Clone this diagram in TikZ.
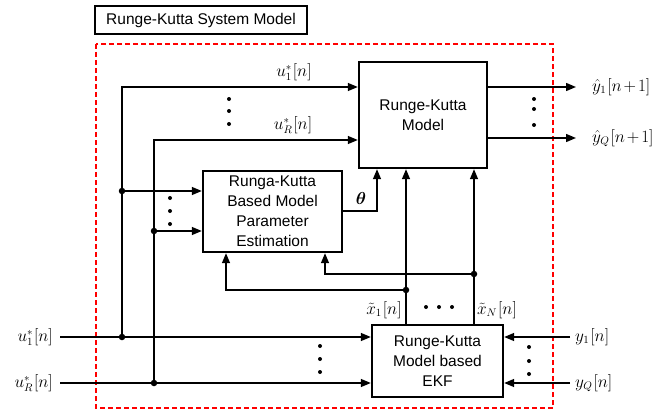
\documentclass[tikz,border=0pt]{standalone}
\usepackage{bm}
\usepackage{fontspec}
\setmainfont{Liberation Sans}
\usetikzlibrary{arrows.meta}
\newcommand{\brk}[1]{\mskip1mu\bigl[#1\bigr]}
\newcommand{\npo}{n\mkern2mu{+}\mkern2mu1}
\begin{document}
\begin{tikzpicture}[x=1pt,y=-1pt,
  font=\fontsize{15.5}{20}\selectfont,
  blk/.style={draw,line width=2.4pt,align=center,inner sep=0pt},
  wire/.style={line width=1.4pt},
  arr/.style={wire,-{Triangle[length=10pt,width=8pt]}},
  jdot/.style={circle,fill,inner sep=0pt,minimum size=6.5pt},
  sdot/.style={circle,fill,inner sep=0pt,minimum size=4pt},
  lab/.style={inner sep=1pt,font=\fontsize{16}{20}\selectfont}]
\useasboundingbox (0,0) rectangle (669,412);
% title and frame
\node[draw,line width=1.3pt,minimum width=212pt,minimum height=28pt,inner sep=0pt] (title) at (201,20) {Runge-Kutta System Model};
\draw[red,line width=2.4pt,dash pattern=on 5pt off 3pt] (96,44) rectangle (553,408);
% blocks
\node[blk,minimum width=128pt,minimum height=106pt] (rk) at (423,115) {Runge-Kutta\\Model};
\node[blk,minimum width=139pt,minimum height=81pt] (pe) at (272.5,211.5) {Runga-Kutta\\Based Model\\Parameter\\Estimation};
\node[blk,minimum width=131pt,minimum height=72pt] (ekf) at (437.5,361) {Runge-Kutta\\Model based\\EKF};
% coordinates
\coordinate (inU1) at (60,337);
\coordinate (inUR) at (60,383);
\coordinate (j1) at (122,337);
\coordinate (j2) at (154,383);
\coordinate (j3) at (122,191);
\coordinate (j4) at (154,231);
\coordinate (yA) at (0,87);
\coordinate (yB) at (0,140);
\coordinate (yC) at (0,138);
\coordinate (outA) at (576,87);
\coordinate (outB) at (576,138);
\coordinate (inY1) at (570,337);
\coordinate (inYQ) at (570,383);
\coordinate (tx) at (377,211);
\coordinate (xa) at (406,0);
\coordinate (xb) at (474,0);
\coordinate (j5) at (406,290);
\coordinate (j6) at (474,274);
\coordinate (pa) at (226,290);
\coordinate (pb) at (325,274);
% bottom inputs
\draw[arr] (inU1) -- (inU1 -| ekf.west);
\draw[arr] (inUR) -- (inUR -| ekf.west);
\draw[arr] (inY1) -- (inY1 -| ekf.east);
\draw[arr] (inYQ) -- (inYQ -| ekf.east);
% branches to RK model
\draw[arr] (j1) |- (rk.west |- yA);
\draw[arr] (j2) |- (rk.west |- yB);
% branches to PE
\draw[arr] (j3) -- (j3 -| pe.west);
\draw[arr] (j4) -- (j4 -| pe.west);
% outputs
\draw[arr] (rk.east |- yA) -- (outA);
\draw[arr] (rk.east |- yC) -- (outB);
% theta
\draw[arr] (pe.east |- tx) -| (tx |- rk.south);
\node[lab] (th) at (361,198) {$\bm{\theta}$};
% state estimates
\draw[arr] (xa |- ekf.north) -- (xa |- rk.south);
\draw[arr] (xb |- ekf.north) -- (xb |- rk.south);
\draw[arr] (j5) -- (pa) -- (pa |- pe.south);
\draw[arr] (j6) -- (pb) -- (pb |- pe.south);
% junction dots
\foreach \j in {j1,j2,j3,j4,j5,j6} \node[jdot] at (\j) {};
% small dots
\foreach \y in {99,111,124} \node[sdot] at (229,\y) {};
\foreach \y in {99,109,125} \node[sdot] at (534,\y) {};
\foreach \y in {198,211,224} \node[sdot] at (170,\y) {};
\foreach \y in {346,359,372} \node[sdot] at (320,\y) {};
\foreach \y in {347,361,374} \node[sdot] at (529,\y) {};
\foreach \x in {426,439,452} \node[sdot] at (\x,307) {};
% labels
\node[lab] (lu1t) at (294,72) {$u_1^*\brk{n}$};
\node[lab] (lurt) at (293,125) {$u_R^*\brk{n}$};
\node[lab,anchor=west] (ly1h) at (591,87) {$\hat{y}_1\brk{\npo}$};
\node[lab,anchor=west] (lyqh) at (591,138) {$\hat{y}_Q\brk{\npo}$};
\node[lab] (lx1) at (384,310) {$\tilde{x}_1\brk{n}$};
\node[lab] (lxn) at (497,310) {$\tilde{x}_N\brk{n}$};
\node[lab,anchor=east] (lu1) at (54,337) {$u_1^*\brk{n}$};
\node[lab,anchor=east] (lur) at (54,383) {$u_R^*\brk{n}$};
\node[lab,anchor=west] (ly1) at (574,337) {$y_1\brk{n}$};
\node[lab,anchor=west] (lyq) at (574,383) {$y_Q\brk{n}$};
\end{tikzpicture}
\end{document}
